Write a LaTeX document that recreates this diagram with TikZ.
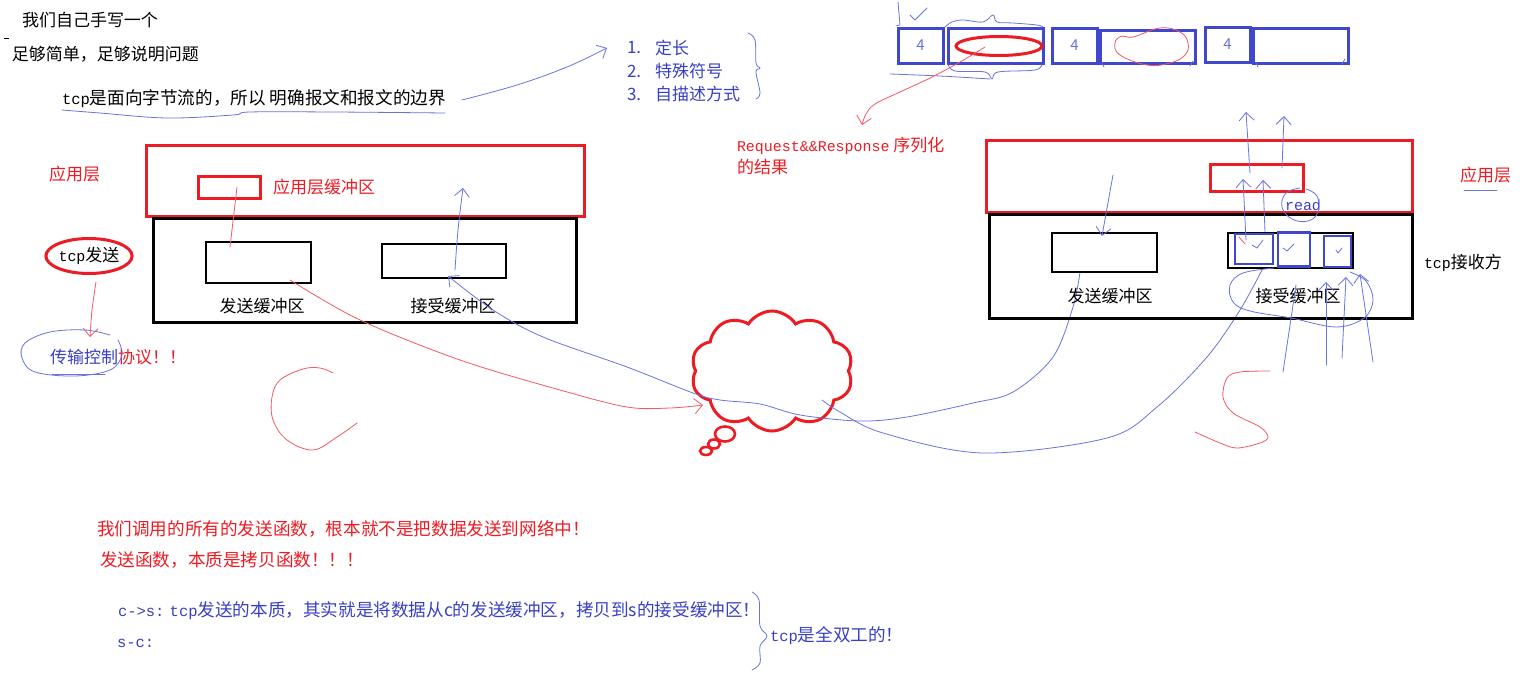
\documentclass[tikz,border=0pt]{standalone}
\usepackage{fontspec}
\setmainfont{Noto Sans CJK SC}
\setmonofont{Liberation Mono}[Scale=0.88]
\usetikzlibrary{arrows.meta,shapes.symbols,shapes.geometric}
\definecolor{pred}{RGB}{237,28,36}
\definecolor{pblue}{RGB}{63,72,204}
\definecolor{tblue}{RGB}{58,64,196}
\definecolor{lblue}{RGB}{105,115,225}
\definecolor{lred}{RGB}{242,90,100}
\begin{document}
\begin{tikzpicture}[x=1pt,y=-1pt,
  every node/.style={inner sep=0pt,outer sep=0pt,font=\fontsize{17}{20}\selectfont},
  txt/.style={anchor=west},
  big/.style={font=\fontsize{17.6}{20}\selectfont},
  appbox/.style={draw=pred,line width=3pt,rectangle},
  tcpbox/.style={draw=black,line width=3pt,rectangle},
  bufbox/.style={draw=black,line width=2.6pt,rectangle},
  pkt/.style={draw=pblue,line width=3pt,rectangle},
  slot/.style={draw=pblue,line width=2.6pt,rectangle},
  pen/.style={draw=lblue,line width=0.8pt,line cap=round,line join=round},
  rpen/.style={draw=lred,line width=0.8pt,line cap=round,line join=round},
  barb/.style={-{Straight Barb[length=8pt,width=15pt]}},
  four/.style={text=lblue,font=\fontsize{15}{15}\selectfont\itshape}
]
\useasboundingbox (0,0) rectangle (1540,688);
\fill[white] (0,0) rectangle (1540,688);

% ---------- top-left texts ----------
\node[txt] (t1) at (22,20) {我们自己手写一个};
\draw[line width=0.8pt] (4,38) -- (9,38);
\node[txt] (t2) at (12,54) {足够简单，足够说明问题};
\node[txt,big] (t3) at (62,99) {\texttt{tcp}是面向字节流的，所以 明确报文和报文的边界};
\draw[pen] plot[smooth,tension=0.6] coordinates {(62,110) (100,113) (167,118) (233,115) (250,112) (333,112) (445,113)};
\draw[pen,barb] plot[smooth,tension=0.6] coordinates {(462,100) (517,85) (567,67) (607,48)};

% list
\node[txt,text=tblue] (n1) at (627,48) {1.};
\node[txt,text=tblue] (l1) at (655,48) {定长};
\node[txt,text=tblue] (n2) at (627,71) {2.};
\node[txt,text=tblue] (l2) at (655,71) {特殊符号};
\node[txt,text=tblue] (n3) at (627,94) {3.};
\node[txt,text=tblue] (l3) at (655,94) {自描述方式};
\draw[pen] plot[smooth,tension=0.6] coordinates {(748,33) (755,40) (756,63) (760,68) (756,72) (760,93) (756,99)};

% ---------- top-right packets ----------
\node[pkt,minimum width=45pt,minimum height=35pt] (p1a) at (920.5,45.5) {};
\node[pkt,minimum width=95pt,minimum height=35pt] (p1b) at (995.5,45.5) {};
\node[pkt,minimum width=45pt,minimum height=35pt] (p2a) at (1074.5,45.5) {};
\node[pkt,minimum width=95pt,minimum height=33pt] (p2b) at (1147.5,46.5) {};
\node[pkt,minimum width=45pt,minimum height=35pt] (p3a) at (1227.5,44.5) {};
\node[pkt,minimum width=95pt,minimum height=35pt] (p3b) at (1300.5,45.5) {};
\node[four] (f1) at (p1a) {4};
\node[four] (f2) at (p2a) {4};
\node[four] (f3) at (p3a) {4};
\draw[draw=pred,line width=3pt] (999,46) ellipse [x radius=43, y radius=9.5];
\draw[rpen] plot[smooth cycle,tension=0.7] coordinates {(1133,37) (1160,28) (1180,32) (1188,43) (1185,55) (1170,63) (1147,65) (1120,55) (1115,43) (1122,36)};
% scribbles on packets
\draw[pen] (898,2) -- (900,25) -- (896,26);
\draw[pen] (910,15) -- (915,20) -- (927,8);
\draw[pen] plot[smooth,tension=0.6] coordinates {(945,27) (952,22) (963,20) (983,22) (993,15) (997,22) (1013,23) (1037,25) (1043,27)};
\draw[pen] plot[smooth,tension=0.6] coordinates {(948,64) (955,71) (985,72) (992,79) (998,72) (1035,70) (1042,64)};
\draw[pen] plot[smooth,tension=0.6] coordinates {(890,74) (940,76) (990,79)};
\draw[pen] (1102,63) -- (1104,67);
\draw[pen] (1190,66) -- (1193,61);
\draw[pen] (1256,63) -- (1258,67);
\draw[pen] (1342,64) -- (1345,59);

% red arrow to label
\draw[rpen,barb] plot[smooth,tension=0.6] coordinates {(985,47) (960,62) (930,78) (900,92) (875,104) (866,114) (862,125)};
\node[txt,text=pred] (rr1) at (737,146) {\texttt{Request\&\&Response} 序列化};
\node[txt,text=pred] (rr2) at (737,167) {的结果};

% ---------- left host ----------
\node[txt,text=pred] (lapplbl) at (49,174) {应用层};
\node[appbox,minimum width=438pt,minimum height=71pt] (lapp) at (365,180.5) {};
\node[appbox,minimum width=62pt,minimum height=22pt] (lappbuf) at (229,187) {};
\node[txt,text=pred] (lappbuflbl) at (273,187) {应用层缓冲区};
\node[tcpbox,minimum width=423pt,minimum height=104pt] (ltcp) at (364.5,270) {};
\node[bufbox,minimum width=105pt,minimum height=41pt] (lsend) at (258.5,262.5) {};
\node[bufbox,minimum width=124pt,minimum height=34pt] (lrecv) at (444,261) {};
\node (lsendlbl) at (262,306) {发送缓冲区};
\node (lrecvlbl) at (453,306) {接受缓冲区};
\draw[rpen] (237,187) -- (230,247);
\draw[pen,barb] plot[smooth,tension=0.6] coordinates {(455,270) (458,230) (463,188)};

\node[ellipse,draw=pred,line width=3pt,minimum width=86pt,minimum height=35pt] (tcpsend) at (89,256) {\texttt{tcp}发送};
\draw[rpen,barb] plot[smooth,tension=0.6] coordinates {(96,282) (92,310) (90,337)};
\node[txt] (proto) at (50,357) {\textcolor{tblue}{传输控制}\textcolor{pred}{协议！！}};
\draw[pen] plot[smooth,tension=0.6] coordinates {(110,335) (85,330) (50,332) (25,343) (22,358) (35,372) (75,376) (110,370) (122,355) (118,340)};
\draw[pen] (52,374) -- (105,374);

% C
\draw[rpen] plot[smooth,tension=0.6] coordinates {(333,373) (320,368) (303,369) (280,380) (272,397) (273,420) (287,440) (313,450) (337,437) (357,423)};

% ---------- network cloud ----------
\node[cloud,cloud puffs=10,cloud puff arc=115,aspect=1.3,draw=pred,line width=3pt,minimum width=162pt,minimum height=120pt] (net) at (772,371) {};
\draw[draw=pred,line width=2.6pt] (725,434) ellipse [x radius=10, y radius=7.5];
\draw[draw=pred,line width=2.6pt] (714,444) ellipse [x radius=6, y radius=4.5];
\draw[draw=pred,line width=2.6pt] (706,451) ellipse [x radius=6, y radius=4];

% red c -> cloud
\draw[rpen,barb] plot[smooth,tension=0.55] coordinates {(290,280) (360,320) (460,360) (560,390) (627,407) (670,408) (703,405)};
% blue s -> c through cloud
\draw[pen,barb] plot[smooth,tension=0.55] coordinates {(1080,272) (1073,307) (1053,357) (1013,392) (973,403) (907,417) (860,421) (800,415) (760,404) (720,400) (693,393) (627,367) (543,337) (493,310) (448,276)};
% blue cloud -> s recv
\draw[pen] plot[smooth,tension=0.55] coordinates {(822,400) (840,412) (883,433) (983,453) (1107,438) (1157,407) (1207,357) (1240,310) (1263,268)};

% ---------- right host ----------
\node[appbox,minimum width=426pt,minimum height=72pt] (rapp) at (1199,176) {};
\node[appbox,minimum width=93pt,minimum height=27pt] (rappbuf) at (1256.5,177.5) {};
\node[tcpbox,minimum width=423pt,minimum height=104pt] (rtcp) at (1200.5,266) {};
\node[bufbox,minimum width=105pt,minimum height=39pt] (rsend) at (1104.5,252.5) {};
\node[bufbox,minimum width=125pt,minimum height=35pt] (rrecv) at (1290.5,250.5) {};
\node[slot,minimum width=38pt,minimum height=30pt] (rs1) at (1254,249) {};
\node[slot,minimum width=32pt,minimum height=34pt] (rs2) at (1294,249.5) {};
\node[slot,minimum width=27pt,minimum height=31pt] (rs3) at (1337.5,251.5) {};
\node (rsendlbl) at (1110,296) {发送缓冲区};
\node (rrecvlbl) at (1298,296) {接受缓冲区};
\node[txt,text=pred] (rapplbl) at (1460,175) {应用层};
\draw[pen] (1464,190) -- (1497,190);
\node[txt] (rside) at (1424,263) {\texttt{tcp}接收方};
\node[text=tblue] (read) at (1303,205) {\texttt{read}};
\draw[pen] plot[smooth,tension=0.7] coordinates {(1300,188) (1286,193) (1282,207) (1292,219) (1308,221) (1318,212) (1317,196) (1306,189)};

% checks
\draw[pen] (1252,245) -- (1257,248) -- (1263,240);
\draw[rpen] (1239,237) -- (1245,244);
\draw[pen] (1283,248) -- (1287,251) -- (1294,244);
\draw[pen] (1336,250) -- (1338,253) -- (1342,248);

% arrows in right host
\draw[pen,barb] (1113,175) -- (1102,236);
\draw[pen,barb] (1246,240) -- (1243,179);
\draw[pen,barb] (1265,232) -- (1263,180);
\draw[pen,barb] (1250,173) -- (1246,112);
\draw[pen,barb] (1282,168) -- (1284,116);

% scribbles below right receive buffer
\draw[pen] plot[smooth,tension=0.6] coordinates {(1274,268) (1243,273) (1230,285) (1233,302) (1250,311) (1291,318) (1336,327) (1364,318) (1373,300) (1366,281) (1350,272)};
\draw[pen] (1296,285) -- (1283,372);
\draw[pen,barb] (1326,365) -- (1326,282);
\draw[pen,barb] (1342,358) -- (1346,277);
\draw[pen,barb] (1373,362) -- (1360,274);

% S
\draw[rpen] plot[smooth,tension=0.55] coordinates {(1270,371) (1240,372) (1227,378) (1223,397) (1233,413) (1260,427) (1268,437) (1260,443) (1237,448) (1220,443) (1195,432)};

% ---------- bottom texts ----------
\node[txt,text=pred,big] (b1) at (97,529) {我们调用的所有的发送函数，根本就不是把数据发送到网络中！};
\node[txt,text=pred,big] (b2) at (100,560) {发送函数，本质是拷贝函数！！！};
\node[txt,text=tblue,big] (b3) at (118,611) {\texttt{c->s:} \texttt{tcp}发送的本质，其实就是将数据从c的发送缓冲区，拷贝到s的接受缓冲区！};
\node[txt,text=tblue,big] (b4) at (117,643) {\texttt{s-c:}};
\draw[pen] plot[smooth,tension=0.6] coordinates {(752,592) (759,600) (760,626) (767,636) (760,646) (760,663) (752,670)};
\node[txt,text=tblue,big] (b5) at (770,636) {\texttt{tcp}是全双工的！};
\end{tikzpicture}
\end{document}
